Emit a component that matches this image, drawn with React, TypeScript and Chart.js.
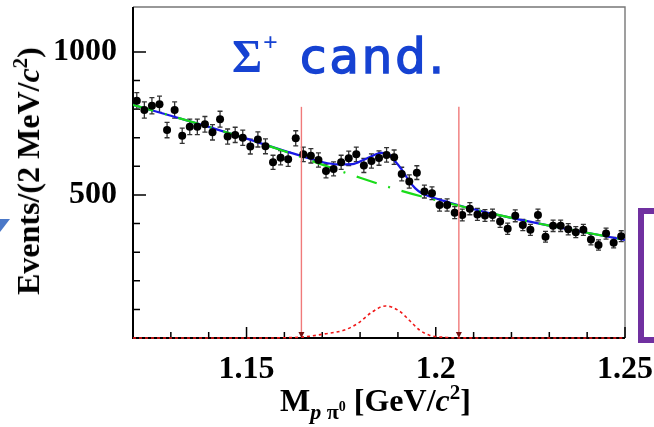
import React, { useEffect, useRef } from "react";
import { Chart, registerables } from "chart.js";

Chart.register(...registerables);

// Invariant-mass histogram: 2 MeV/c^2 bins between 1.12 and 1.25 GeV/c^2
const HIST_LOW = 1.12;
const BIN_WIDTH = 0.002;
const counts = [
  829, 797, 812, 817, 727, 797, 707, 738, 738, 747,
  719, 765, 704, 710, 700, 669, 694, 670, 614, 630,
  625, 698, 642, 637, 622, 584, 591, 614, 628, 642,
  603, 619, 629, 640, 632, 573, 547, 578, 512, 506,
  465, 465, 438, 430, 452, 432, 428, 430, 407, 382,
  427, 395, 378, 430, 354, 392, 392, 380, 370, 378,
  344, 325, 365, 333, 356,
];

// Background component of the fit
const bkgMass = [1.12, 1.13, 1.14, 1.15, 1.16, 1.17, 1.18, 1.19, 1.2, 1.21, 1.22, 1.23, 1.24, 1.25];
const bkgYield = [815, 777, 738, 697, 653, 606, 560, 518, 482, 450, 420, 393, 368, 343];

// Total fit (signal + background)
const fitMass = [
  1.12, 1.13, 1.14, 1.15, 1.16, 1.165, 1.17, 1.174, 1.178, 1.181, 1.1835, 1.1855, 1.1875,
  1.189, 1.1911, 1.1928, 1.1946, 1.1963, 1.199, 1.203, 1.21, 1.22, 1.23, 1.24, 1.25,
];
const fitYield = [
  815, 777, 738, 697, 654, 634, 615, 607, 608, 623, 638, 647, 643,
  622, 587, 552, 523, 506, 492, 476, 450, 420, 393, 368, 343,
];

// Signal shape
const sigMass = [
  1.12, 1.14, 1.155, 1.16, 1.1645, 1.1705, 1.1759, 1.1795, 1.1831, 1.1867, 1.1903,
  1.193, 1.1957, 1.1983, 1.2028, 1.207, 1.22, 1.25,
];
const sigYield = [0, 0, 0, 1, 3, 14, 28, 52, 90, 112, 95, 62, 28, 10, 2, 0.5, 0, 0];

// Mass window (arrows)
const cutLow = 1.1645;
const cutHigh = 1.2061;
const cutArrowTop = 808;

const X_MIN = 1.12;
const X_MAX = 1.25;
const Y_MIN = 0;
const Y_MAX = 1157;
const X_STEP = 0.01;
const Y_STEP = 100;

const xy = (xs: number[], ys: number[]) => xs.map((x, i) => ({ x, y: ys[i] }));

const isMajorX = (v: number) => Math.round(v * 100) % 5 === 0;
const isMajorY = (v: number) => Math.round(v) % 500 === 0;

const axisFont = { family: "'Liberation Serif', 'Times New Roman', serif", weight: "bold" as const, size: 32 };

const framePlugin = {
  id: "rootFrame",
  beforeDatasetsDraw(chart: any) {
    const { ctx, chartArea: a, scales } = chart;
    const x = scales.x;
    const y = scales.y;
    ctx.save();
    // upper and right frame
    ctx.strokeStyle = "#777";
    ctx.lineWidth = 1.4;
    ctx.beginPath();
    ctx.moveTo(a.left, a.top);
    ctx.lineTo(a.right, a.top);
    ctx.lineTo(a.right, a.bottom);
    ctx.stroke();
    // axes
    ctx.strokeStyle = "#000";
    ctx.lineWidth = 2;
    ctx.beginPath();
    ctx.moveTo(a.left, a.top);
    ctx.lineTo(a.left, a.bottom);
    ctx.lineTo(a.right, a.bottom);
    ctx.stroke();
    // inward tick marks
    ctx.lineWidth = 1.5;
    ctx.beginPath();
    x.ticks.forEach((t: any) => {
      const px = x.getPixelForValue(t.value);
      const len = isMajorX(t.value) ? 11 : 6;
      ctx.moveTo(px, a.bottom);
      ctx.lineTo(px, a.bottom - len);
    });
    y.ticks.forEach((t: any) => {
      if (Math.round(t.value) % Y_STEP !== 0) return;
      const py = y.getPixelForValue(t.value);
      const len = isMajorY(t.value) ? 13 : 7;
      ctx.moveTo(a.left, py);
      ctx.lineTo(a.left + len, py);
    });
    ctx.stroke();

    // statistical error bars of the histogram
    const data = chart.data.datasets[0].data as { x: number; y: number }[];
    ctx.strokeStyle = "#333";
    ctx.lineWidth = 1.3;
    ctx.beginPath();
    data.forEach((d) => {
      const err = Math.sqrt(d.y);
      const px = x.getPixelForValue(d.x);
      const top = y.getPixelForValue(d.y + err);
      const bot = y.getPixelForValue(d.y - err);
      ctx.moveTo(px, top);
      ctx.lineTo(px, bot);
      ctx.moveTo(px - 2.5, top);
      ctx.lineTo(px + 2.5, top);
      ctx.moveTo(px - 2.5, bot);
      ctx.lineTo(px + 2.5, bot);
    });
    ctx.stroke();
    ctx.restore();
  },
  afterDatasetsDraw(chart: any) {
    const { ctx, scales } = chart;
    const x = scales.x;
    const y = scales.y;
    ctx.save();
    [cutLow, cutHigh].forEach((m) => {
      const px = x.getPixelForValue(m);
      const top = y.getPixelForValue(cutArrowTop);
      const bot = y.getPixelForValue(Y_MIN);
      ctx.strokeStyle = "#f07a7a";
      ctx.lineWidth = 1.4;
      ctx.beginPath();
      ctx.moveTo(px, top);
      ctx.lineTo(px, bot - 4);
      ctx.stroke();
      ctx.fillStyle = "#7a1010";
      ctx.beginPath();
      ctx.moveTo(px - 3, bot - 6);
      ctx.lineTo(px + 3, bot - 6);
      ctx.lineTo(px, bot);
      ctx.closePath();
      ctx.fill();
    });
    ctx.restore();
  },
};

export default function App() {
  const ref = useRef<HTMLCanvasElement>(null);

  useEffect(() => {
    const histPoints = counts.map((c, i) => ({ x: HIST_LOW + (i + 0.5) * BIN_WIDTH, y: c }));
    const chart = new Chart(ref.current as HTMLCanvasElement, {
      type: "scatter",
      data: {
        datasets: [
          {
            label: "data",
            data: histPoints,
            pointRadius: 4,
            pointBackgroundColor: "#000",
            pointBorderWidth: 0,
            showLine: false,
            order: 0,
          },
          {
            label: "background",
            data: xy(bkgMass, bkgYield),
            showLine: true,
            pointRadius: 0,
            borderColor: "#19dc19",
            borderWidth: 2.2,
            borderDash: [21, 12, 2, 12],
            cubicInterpolationMode: "monotone",
            order: 1,
          },
          {
            label: "fit",
            data: xy(fitMass, fitYield),
            showLine: true,
            pointRadius: 0,
            borderColor: "#1818e6",
            borderWidth: 2.2,
            cubicInterpolationMode: "monotone",
            order: 2,
          },
          {
            label: "signal",
            data: xy(sigMass, sigYield),
            showLine: true,
            pointRadius: 0,
            borderColor: "#f01818",
            borderWidth: 1.6,
            borderDash: [3, 3],
            cubicInterpolationMode: "monotone",
            clip: false,
            order: 3,
          },
        ],
      },
      options: {
        responsive: false,
        animation: false,
        events: [],
        layout: { padding: { left: 0, top: 7, right: 29, bottom: 0 } },
        plugins: { legend: { display: false }, tooltip: { enabled: false } },
        scales: {
          x: {
            type: "linear",
            min: X_MIN,
            max: X_MAX,
            grid: { display: false, drawTicks: false },
            border: { display: false },
            ticks: {
              stepSize: X_STEP,
              autoSkip: false,
              maxRotation: 0,
              minRotation: 0,
              padding: 13,
              color: "#000",
              font: axisFont,
              callback: (v: any) => (isMajorX(Number(v)) ? String(Math.round(Number(v) * 100) / 100) : ""),
            },
            afterFit: (s: any) => {
              s.height = 89;
              s.paddingLeft = 0;
              s.paddingRight = 0;
              s.paddingTop = 0;
              s.paddingBottom = 0;
            },
          },
          y: {
            type: "linear",
            min: Y_MIN,
            max: Y_MAX,
            grid: { display: false, drawTicks: false },
            border: { display: false },
            ticks: {
              stepSize: Y_STEP,
              autoSkip: false,
              padding: 16,
              color: "#000",
              font: axisFont,
              callback: (v: any) => {
                const n = Number(v);
                return n > 0 && Math.round(n) % Y_STEP === 0 && isMajorY(n) ? String(Math.round(n)) : "";
              },
            },
            afterFit: (s: any) => {
              s.width = 133;
              s.paddingLeft = 0;
              s.paddingRight = 0;
              s.paddingTop = 0;
              s.paddingBottom = 0;
            },
          },
        },
      },
      plugins: [framePlugin],
    } as any);
    return () => chart.destroy();
  }, []);

  const serif = "'Liberation Serif', 'Times New Roman', serif";
  const blueInk = "#1642d2";

  return (
    <div
      style={{
        position: "fixed",
        left: 0,
        top: 0,
        width: 654,
        height: 427,
        background: "#fff",
        overflow: "hidden",
      }}
    >
      <canvas
        ref={ref}
        width={654}
        height={427}
        style={{ position: "absolute", left: 0, top: 0, width: 654, height: 427 }}
      />

      {/* y-axis title */}
      <div
        style={{
          position: "absolute",
          left: 30,
          top: 171,
          transform: "translate(-50%, -50%) rotate(-90deg)",
          whiteSpace: "nowrap",
          fontFamily: serif,
          fontWeight: "bold",
          fontSize: 32,
          lineHeight: "32px",
          color: "#000",
        }}
      >
        Events/(2 MeV/<i>c</i>
        <span style={{ fontSize: 21, position: "relative", top: -12 }}>2</span>)
      </div>

      {/* x-axis title */}
      <div
        style={{
          position: "absolute",
          left: 280,
          top: 384,
          whiteSpace: "nowrap",
          fontFamily: serif,
          fontWeight: "bold",
          fontSize: 32,
          lineHeight: "32px",
          color: "#000",
        }}
      >
        M
        <span style={{ fontSize: 22, position: "relative", top: 8 }}>
          <i>p</i> π<span style={{ fontSize: 14, position: "relative", top: -8 }}>0</span>
        </span>{" "}
        [GeV/<i>c</i>
        <span style={{ fontSize: 21, position: "relative", top: -12 }}>2</span>]
      </div>

      {/* Sigma+ candidate label */}
      <div
        style={{
          position: "absolute",
          left: 232,
          top: 34,
          fontFamily: serif,
          fontWeight: "bold",
          fontSize: 46,
          lineHeight: "46px",
          color: blueInk,
          whiteSpace: "nowrap",
        }}
      >
        Σ
      </div>
      <div
        style={{
          position: "absolute",
          left: 263,
          top: 30,
          fontFamily: serif,
          fontWeight: "bold",
          fontSize: 26,
          lineHeight: "26px",
          color: blueInk,
        }}
      >
        +
      </div>
      <div
        style={{
          position: "absolute",
          left: 300,
          top: 32,
          fontFamily: "'DejaVu Sans', sans-serif",
          fontSize: 48,
          lineHeight: "48px",
          letterSpacing: 3,
          color: blueInk,
          WebkitTextStroke: `1.4px ${blueInk}`,
          whiteSpace: "nowrap",
        }}
      >
        cand.
      </div>

      {/* side decorations */}
      <svg
        width={654}
        height={427}
        style={{ position: "absolute", left: 0, top: 0, pointerEvents: "none" }}
      >
        <polygon points="0,219 10,219 0,232" fill="#4a78c8" />
        <polyline
          points="654,211 641,211 641,340 654,340"
          fill="none"
          stroke="#7030a0"
          strokeWidth={6}
        />
      </svg>
    </div>
  );
}
